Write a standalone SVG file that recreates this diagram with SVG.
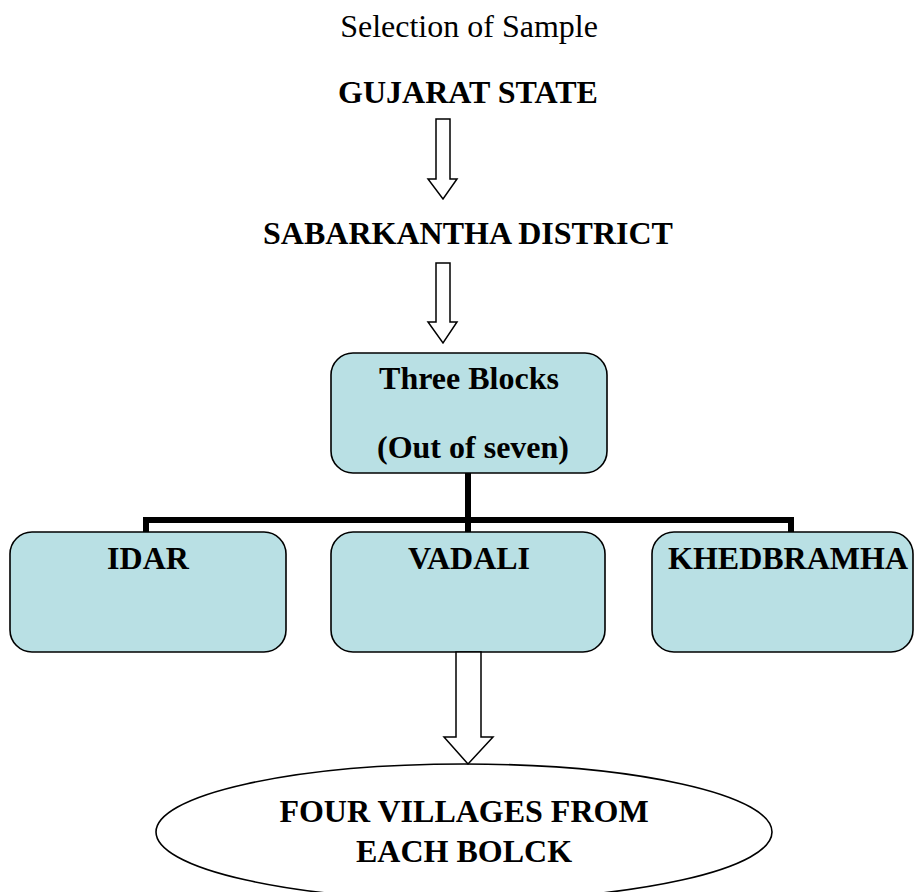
<svg xmlns="http://www.w3.org/2000/svg" width="915" height="892" viewBox="0 0 915 892">
<style>
.t{font-family:"Liberation Serif","Times New Roman",serif;fill:#000;text-anchor:middle}
.b{font-weight:bold;font-size:32px}
.box{fill:#b9e0e4;stroke:#000;stroke-width:1.6}
.arr{fill:#fff;stroke:#000;stroke-width:1.5;stroke-linejoin:miter}
.tree{fill:none;stroke:#000;stroke-width:6}
</style>
<rect width="915" height="892" fill="#fff"/>
<g id="title"><text class="t" x="469" y="37" font-size="32">Selection of Sample</text></g>
<g id="gujarat"><text class="t b" x="468" y="103">GUJARAT STATE</text></g>
<g id="sabarkantha"><text class="t b" x="468" y="244">SABARKANTHA DISTRICT</text></g>
<g id="blocks">
<rect class="box" x="331" y="353" width="276" height="120" rx="22"/>
<text class="t b" x="469" y="389">Three Blocks</text>
<text class="t b" x="473" y="458">(Out of seven)</text>
</g>
<g id="idar">
<rect class="box" x="10" y="532" width="276" height="120" rx="22"/>
<text class="t b" x="148" y="569">IDAR</text>
</g>
<g id="vadali">
<rect class="box" x="331" y="532" width="274" height="120" rx="22"/>
<text class="t b" x="469" y="569">VADALI</text>
</g>
<g id="khedbramha">
<rect class="box" x="652" y="532" width="261" height="120" rx="22"/>
<text class="t b" x="788" y="569">KHEDBRAMHA</text>
</g>
<g id="villages">
<ellipse cx="464" cy="832" rx="308" ry="68" fill="#fff" stroke="#000" stroke-width="1.6"/>
<text class="t b" x="464" y="822">FOUR VILLAGES FROM</text>
<text class="t b" x="464" y="862">EACH BOLCK</text>
</g>
<g id="connectors">
<path class="arr" d="M436,119 H450 V179 H457 L443,199 L428,179 H436 Z"/>
<path class="arr" d="M436,263 H450 V322 H457 L443,343 L428,322 H436 Z"/>
<path class="tree" d="M468,473 V532 M146,532 V520 H791 V532"/>
<path class="arr" d="M456,652 H481 V737 H493 L468,764 L444,737 H456 Z"/>
</g>
</svg>
